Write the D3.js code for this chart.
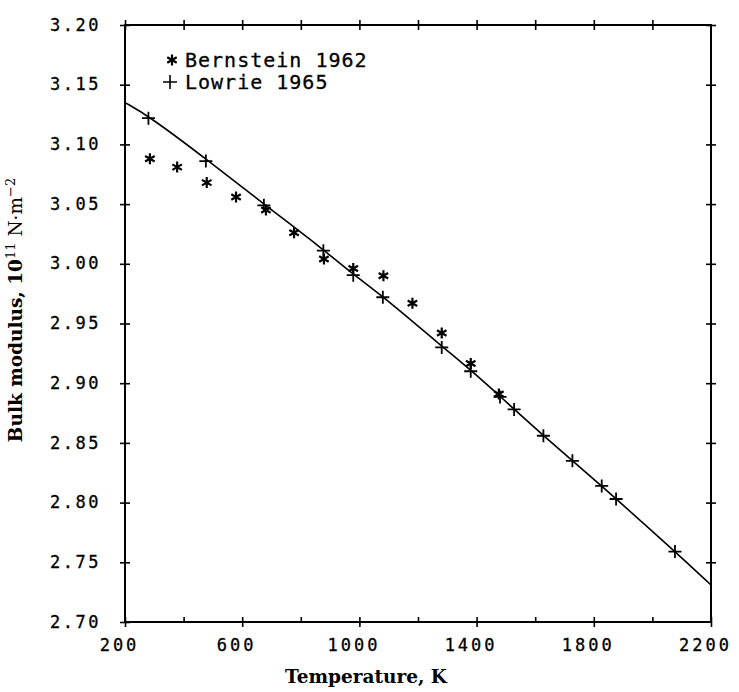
<!DOCTYPE html>
<html>
<head>
<meta charset="utf-8">
<script src="https://cdn.jsdelivr.net/npm/d3@7"></script>
<style>
  html, body { margin: 0; padding: 0; background: #fff; }
  svg { display: block; }
</style>
</head>
<body>
<svg id="chart" width="739" height="692"></svg>
<script>
// ---- Data ----
const bernsteinT = [285, 378, 479, 579, 681, 777, 879, 979, 1082, 1181, 1281, 1380, 1476];
const bernsteinB = [3.088, 3.081, 3.068, 3.056, 3.045, 3.026, 3.004, 2.996, 2.990, 2.967, 2.942, 2.9165, 2.891];

const lowrieT = [280, 476, 674, 877, 979, 1080, 1281, 1380, 1480, 1528, 1628, 1727, 1827, 1876, 2077];
const lowrieB = [3.122, 3.086, 3.049, 3.011, 2.9905, 2.972, 2.930, 2.910, 2.8885, 2.878, 2.856, 2.835, 2.814, 2.803, 2.759];

const fitT = [200, 280, 476, 674, 877, 979, 1080, 1281, 1380, 1480, 1628, 1827, 2077, 2200];
const fitB = [3.135, 3.124, 3.088, 3.050, 3.012, 2.991, 2.973, 2.931, 2.911, 2.889, 2.856, 2.814, 2.759, 2.731];

const xTicks = [200, 400, 600, 800, 1000, 1200, 1400, 1600, 1800, 2000, 2200];
const xTickLabels = [200, 600, 1000, 1400, 1800, 2200];
const yTicks = [2.70, 2.75, 2.80, 2.85, 2.90, 2.95, 3.00, 3.05, 3.10, 3.15, 3.20];

const legendLabels = ["Bernstein 1962", "Lowrie 1965"];
const xTitle = "Temperature, K";

// ---- Layout ----
const W = 739, H = 692;
const L = 125, R = 711, T = 25, B = 622;

const svg = d3.select("#chart");
const x = d3.scaleLinear().domain([200, 2200]).range([L, R]);
const y = d3.scaleLinear().domain([2.70, 3.20]).range([B, T]);

const tickFont = "'DejaVu Sans Mono', monospace";
const titleFont = "'DejaVu Serif', serif";

function styleAxis(g) {
  g.select(".domain").remove();
  g.selectAll("line").attr("stroke", "#000").attr("stroke-width", 1.6);
}

// bottom
const gB = svg.append("g").attr("transform", `translate(0,${B})`)
  .call(d3.axisBottom(x).tickValues(xTicks).tickSize(0)
    .tickFormat(d => xTickLabels.includes(d) ? d : ""));
styleAxis(gB);
gB.selectAll(".tick line").attr("y1", -5).attr("y2", d => xTickLabels.includes(d) ? 5 : 0);
gB.selectAll(".tick text")
  .attr("font-family", tickFont).attr("font-size", 17).attr("letter-spacing", 3)
  .attr("fill", "#000").attr("stroke", "#000").attr("stroke-width", 0.3)
  .attr("dy", null).attr("y", 29).attr("dx", -6);

// top
const gT = svg.append("g").attr("transform", `translate(0,${T})`)
  .call(d3.axisTop(x).tickValues(xTicks.slice(0, -1)).tickSize(0).tickFormat(""));
styleAxis(gT);
gT.selectAll(".tick line").attr("y1", -5).attr("y2", 5);

// left
const gL = svg.append("g").attr("transform", `translate(${L},0)`)
  .call(d3.axisLeft(y).tickValues(yTicks).tickSize(0).tickFormat(d3.format(".2f")));
styleAxis(gL);
gL.selectAll(".tick line").attr("x1", -5).attr("x2", 5);
gL.selectAll(".tick text")
  .attr("font-family", tickFont).attr("font-size", 17).attr("letter-spacing", 2.5)
  .attr("fill", "#000").attr("stroke", "#000").attr("stroke-width", 0.3)
  .attr("x", -24).attr("dy", "0.3em");

// right
const gR = svg.append("g").attr("transform", `translate(${R},0)`)
  .call(d3.axisRight(y).tickValues(yTicks.slice(1)).tickSize(0).tickFormat(""));
styleAxis(gR);
gR.selectAll(".tick line").attr("x1", -5).attr("x2", 5);

// frame
svg.append("rect").attr("x", L).attr("y", T).attr("width", R - L).attr("height", B - T)
  .attr("fill", "none").attr("stroke", "#000").attr("stroke-width", 2);

// fitted curve
const fitData = fitT.map((t, i) => ({ t, b: fitB[i] }));
svg.append("path").datum(fitData)
  .attr("d", d3.line().x(d => x(d.t)).y(d => y(d.b)).curve(d3.curveBasis))
  .attr("fill", "none").attr("stroke", "#000").attr("stroke-width", 1.6);

// marker paths
const plusPath = s => `M${-s},0H${s}M0,${-s}V${s}`;
const starPath = s => {
  const c = s * Math.cos(Math.PI / 6), d = s * Math.sin(Math.PI / 6);
  return `M0,${-s}V${s}M${-c},${-d}L${c},${d}M${-c},${d}L${c},${-d}`;
};

const bData = bernsteinT.map((t, i) => ({ t, b: bernsteinB[i] }));
const lData = lowrieT.map((t, i) => ({ t, b: lowrieB[i] }));

svg.append("g").selectAll("path").data(bData).join("path")
  .attr("transform", d => `translate(${x(d.t)},${y(d.b)})`)
  .attr("d", starPath(5.5))
  .attr("fill", "none").attr("stroke", "#000").attr("stroke-width", 2.2);

svg.append("g").selectAll("path").data(lData).join("path")
  .attr("transform", d => `translate(${x(d.t)},${y(d.b)})`)
  .attr("d", plusPath(6.5))
  .attr("fill", "none").attr("stroke", "#000").attr("stroke-width", 1.8);

// legend
const leg = svg.append("g");
leg.append("path").attr("transform", "translate(172,60)").attr("d", starPath(5.5))
  .attr("fill", "none").attr("stroke", "#000").attr("stroke-width", 2.2);
leg.append("path").attr("transform", "translate(170,82)").attr("d", plusPath(7))
  .attr("fill", "none").attr("stroke", "#000").attr("stroke-width", 1.6);
leg.selectAll("text").data(legendLabels).join("text")
  .attr("x", 185).attr("y", (d, i) => 67 + i * 22)
  .attr("font-family", tickFont).attr("font-size", 20).attr("letter-spacing", 1)
  .attr("fill", "#000").attr("stroke", "#000").attr("stroke-width", 0.3)
  .text(d => d);

// x title
svg.append("text").attr("x", 366).attr("y", 683).attr("text-anchor", "middle")
  .attr("font-family", titleFont).attr("font-size", 18.5).attr("font-weight", "bold")
  .attr("fill", "#000").text(xTitle);

// y title
const yt = svg.append("text")
  .attr("transform", "translate(22,310) rotate(-90)")
  .attr("text-anchor", "middle")
  .attr("font-family", titleFont).attr("font-size", 18.5).attr("font-weight", "bold")
  .attr("fill", "#000");
yt.append("tspan").text("Bulk modulus, 10");
yt.append("tspan").attr("dy", -7).attr("font-size", 13).attr("font-weight", "normal").text("11");
yt.append("tspan").attr("dy", 7).attr("font-weight", "normal").text(" N\u00B7m");
yt.append("tspan").attr("dy", -7).attr("font-size", 13).attr("font-weight", "normal").text("\u22122");
</script>
</body>
</html>
